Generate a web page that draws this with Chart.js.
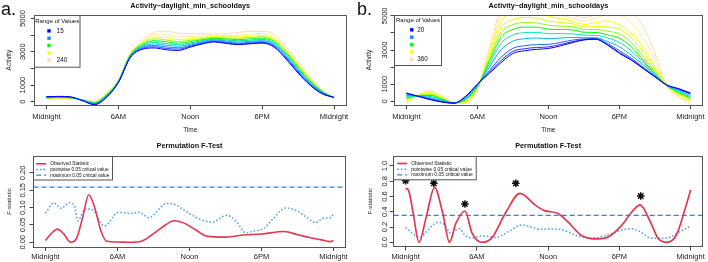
<!DOCTYPE html>
<html><head><meta charset="utf-8">
<script src="https://cdn.jsdelivr.net/npm/chart.js@4.4.1/dist/chart.umd.min.js"></script>
<style>
html,body{margin:0;padding:0;background:#fff;width:708px;height:262px;overflow:hidden;position:relative;}
canvas{position:absolute;}
.plab{position:absolute;font-family:"Liberation Sans",Arial,sans-serif;font-size:18px;line-height:18px;color:#111;}
</style></head><body>
<canvas id="cA" width="354" height="135" style="left:0;top:0;width:354px;height:135px"></canvas>
<canvas id="cB" width="354" height="135" style="left:354px;top:0;width:354px;height:135px"></canvas>
<canvas id="cC" width="354" height="127" style="left:0;top:135px;width:354px;height:127px"></canvas>
<canvas id="cD" width="354" height="127" style="left:354px;top:135px;width:354px;height:127px"></canvas>
<div class="plab" style="left:1px;top:0px">a.</div>
<div class="plab" style="left:357px;top:0px">b.</div>
<script>
const FONT = '"Liberation Sans", Arial, sans-serif';

// ---------- shared axes ----------
const hours = [0,1,2,3,4,5,6,7,8,9,10,11,12,13,14,15,16,17,18,19,20,21,22,23,24];
const timeTicks = [0, 6, 12, 18, 24];
const timeLabels = ['Midnight', '6AM', 'Noon', '6PM', 'Midnight'];
const activityTicks = [0, 1000, 2000, 3000, 4000, 5000];
const activityTickLabels = ['0', '1000', '', '3000', '', '5000'];

// ---------- panel a (top): activity curves, lambda 15..240 ----------
const lambdaA = [15, 40, 65, 90, 115, 140, 165, 190, 215, 240];
const actA_15  = [300, 320, 290, 60, -180, 250, 1150, 2650, 3150, 3230, 3120, 3080, 3280, 3470, 3590, 3500, 3430, 3480, 3520, 3280, 2560, 1720, 990, 480, 260];
const actA_40  = [290, 310, 280, 70, -160, 280, 1160, 2680, 3200, 3300, 3200, 3160, 3330, 3510, 3620, 3540, 3470, 3520, 3560, 3330, 2620, 1780, 1030, 500, 255];
const actA_65  = [280, 300, 270, 80, -140, 310, 1180, 2710, 3260, 3380, 3290, 3240, 3390, 3560, 3660, 3590, 3520, 3570, 3610, 3390, 2690, 1840, 1080, 530, 250];
const actA_90  = [265, 285, 260, 90, -110, 340, 1200, 2740, 3320, 3470, 3390, 3330, 3460, 3610, 3710, 3650, 3590, 3630, 3670, 3460, 2770, 1910, 1130, 560, 245];
const actA_115 = [250, 270, 250, 100, -80, 370, 1220, 2770, 3380, 3570, 3490, 3420, 3530, 3670, 3760, 3710, 3660, 3700, 3740, 3540, 2850, 1990, 1190, 590, 240];
const actA_140 = [235, 255, 240, 105, -60, 400, 1240, 2800, 3440, 3670, 3600, 3520, 3610, 3730, 3810, 3770, 3730, 3780, 3820, 3620, 2940, 2070, 1250, 620, 230];
const actA_165 = [220, 240, 230, 110, -40, 430, 1260, 2830, 3500, 3780, 3710, 3620, 3690, 3790, 3860, 3830, 3810, 3860, 3900, 3700, 3020, 2150, 1310, 650, 220];
const actA_190 = [205, 225, 220, 115, -20, 460, 1280, 2860, 3560, 3890, 3830, 3730, 3780, 3860, 3920, 3900, 3890, 3940, 3980, 3790, 3110, 2230, 1370, 670, 210];
const actA_215 = [190, 210, 205, 120, 0, 490, 1300, 2890, 3610, 4020, 3990, 3880, 3900, 3950, 3990, 3980, 3990, 4060, 4090, 3900, 3200, 2310, 1430, 690, 200];
const actA_240 = [175, 195, 190, 125, 20, 520, 1330, 2920, 3660, 4180, 4230, 4130, 4100, 4080, 4070, 4090, 4160, 4230, 4230, 4050, 3300, 2400, 1500, 710, 190];
const seriesA = [actA_15, actA_40, actA_65, actA_90, actA_115, actA_140, actA_165, actA_190, actA_215, actA_240];
const legendLabelsA = ['15', '', '', '', '240'];

// ---------- panel b (top): activity curves, lambda 20..360 ----------
const lambdaB = [20, 54, 88, 122, 156, 190, 224, 258, 292, 326, 360];
const actB_20  = [490, 290, 100, -40, -110, 290, 1000, 1630, 2260, 2800, 2960, 3040, 3090, 3240, 3430, 3590, 3630, 3290, 2800, 2410, 1920, 1430, 960, 745, 490];
const actB_54  = [465, 294, 121, -25, -108, 274, 988, 1689, 2386, 2920, 3078, 3150, 3180, 3320, 3480, 3610, 3640, 3320, 2860, 2450, 1950, 1445, 955, 725, 465];
const actB_88  = [428, 299, 152, -3, -105, 249, 970, 1777, 2574, 3100, 3254, 3316, 3330, 3440, 3580, 3650, 3680, 3380, 2960, 2530, 2000, 1475, 945, 695, 428];
const actB_122 = [341, 312, 225, 49, -98, 192, 928, 1983, 3014, 3520, 3666, 3702, 3670, 3700, 3740, 3720, 3720, 3490, 3190, 2700, 2150, 1540, 940, 630, 341];
const actB_156 = [267, 322, 287, 93, -92, 142, 892, 2159, 3390, 3880, 4018, 4034, 3960, 3960, 3950, 3870, 3860, 3700, 3450, 2950, 2290, 1590, 935, 570, 267];
const actB_190 = [199, 332, 344, 134, -86, 97, 859, 2321, 3736, 4210, 4342, 4337, 4220, 4200, 4180, 4040, 4030, 3880, 3690, 3190, 2410, 1630, 930, 515, 199];
const actB_224 = [143, 340, 391, 167, -82, 60, 832, 2453, 4018, 4480, 4606, 4586, 4450, 4400, 4370, 4190, 4200, 4100, 3950, 3450, 2620, 1740, 925, 470, 143];
const actB_258 = [81, 349, 443, 204, -77, 19, 802, 2600, 4332, 4780, 4900, 4862, 4690, 4620, 4540, 4340, 4380, 4350, 4220, 3720, 2900, 1880, 920, 420, 81];
const actB_292 = [6, 360, 506, 249, -71, -30, 766, 2777, 4709, 5140, 5253, 5193, 4980, 4850, 4700, 4500, 4600, 4700, 4470, 3980, 3190, 2020, 915, 360, 6];
const actB_326 = [-62, 370, 563, 289, -66, -75, 733, 2938, 5055, 5470, 5577, 5496, 5250, 5050, 4850, 4700, 4850, 5100, 5050, 4600, 3750, 2400, 910, 305, -62];
const actB_360 = [-130, 380, 620, 330, -60, -120, 700, 3100, 5400, 5800, 5900, 5800, 5500, 5300, 5050, 4900, 5100, 5500, 5600, 5300, 4370, 2800, 900, 250, -130];
const seriesB = [actB_20, actB_54, actB_88, actB_122, actB_156, actB_190, actB_224, actB_258, actB_292, actB_326, actB_360];
const legendLabelsB = ['20', '', '', '', '360'];

// ---------- panel a (bottom): permutation F-test ----------
const fTicksA = [0, 0.05, 0.10, 0.15, 0.20];
const fLabelsA = ['0.00', '0.05', '0.10', '0.15', '0.20'];
const obsA_x = [0, 0.5, 1, 1.5, 2.1, 2.6, 3.1, 3.6, 4.1, 4.6, 5.1, 6, 7, 8, 9, 10, 10.7, 11.5, 12.5, 13.5, 15, 16.5, 18, 19.9, 21, 22, 23, 23.7, 24];
const obsA_y = [0.005, 0.026, 0.038, 0.025, 0.0, 0.012, 0.072, 0.137, 0.1, 0.035, 0.003, 0.001, 0.0, 0.003, 0.025, 0.05, 0.062, 0.056, 0.036, 0.017, 0.015, 0.021, 0.024, 0.031, 0.022, 0.014, 0.007, 0.002, 0.005];
const ptwA_x = [0, 0.7, 1.3, 2.0, 2.4, 2.7, 3.3, 3.9, 4.9, 6.1, 7.1, 7.8, 8.6, 10.1, 10.7, 11.8, 12.9, 13.9, 15.1, 15.9, 16.7, 17.3, 18.2, 19, 20, 21, 21.8, 22.5, 23.2, 23.8, 24];
const ptwA_y = [0.084, 0.114, 0.098, 0.114, 0.106, 0.062, 0.096, 0.094, 0.047, 0.087, 0.083, 0.087, 0.071, 0.112, 0.11, 0.087, 0.066, 0.058, 0.078, 0.06, 0.027, 0.032, 0.04, 0.069, 0.099, 0.09, 0.071, 0.057, 0.07, 0.071, 0.085];
const maxCritA = 0.159;

// ---------- panel b (bottom): permutation F-test ----------
const fTicksB = [0, 0.2, 0.4, 0.6, 0.8, 1.0];
const fLabelsB = ['0.0', '0.2', '0.4', '0.6', '0.8', '1.0'];
const obsB_x = [0, 0.25, 0.64, 1.13, 1.75, 2.44, 3.13, 3.7, 4.24, 5.0, 5.6, 6.45, 7.3, 8.4, 9.64, 10.9, 11.7, 12.8, 13.65, 14.76, 15.87, 16.98, 18.1, 19.06, 19.75, 20.6, 21.27, 22.0, 22.8, 23.5, 24];
const obsB_y = [0.707, 0.68, 0.38, 0.0, 0.34, 0.72, 0.38, 0.0, 0.25, 0.41, 0.12, 0.0, 0.065, 0.38, 0.64, 0.49, 0.415, 0.38, 0.27, 0.096, 0.044, 0.065, 0.205, 0.40, 0.49, 0.27, 0.05, 0.0, 0.096, 0.42, 0.685];
const ptwB_x = [0, 0.64, 1.2, 1.75, 2.7, 3.3, 3.8, 4.5, 5.07, 5.6, 6.45, 7.6, 8.67, 9.78, 10.6, 11.4, 12.5, 13.4, 14.5, 15.6, 16.7, 17.8, 18.9, 19.75, 20.6, 21.4, 22.2, 23.1, 24];
const ptwB_y = [0.196, 0.11, 0.065, 0.14, 0.26, 0.23, 0.118, 0.18, 0.083, 0.057, 0.083, 0.065, 0.14, 0.227, 0.196, 0.17, 0.175, 0.153, 0.083, 0.057, 0.083, 0.14, 0.178, 0.14, 0.057, 0.052, 0.065, 0.14, 0.214];
const maxCritB = 0.354;
const sigB_x = [0, 2.38, 5.0, 9.28, 19.8];
const sigB_y = [0.807, 0.773, 0.502, 0.773, 0.607];

// ---------- styles ----------
const colorsA = ['#0000FF', '#2244FF', '#1E80FF', '#00B8FF', '#00E0A0', '#00FF00', '#A0FF00', '#FFFF00', '#FFEA90', '#FFDAB9'];
const colorsB = ['#0000FF', '#2A2AFF', '#1E64FF', '#00B4FF', '#00E8B0', '#00FF00', '#90FF00', '#E0FF00', '#FFFF00', '#FFEAA0', '#FFDAB9'];
const legendColors = ['#0000FF', '#1E80FF', '#00FF00', '#FFFF00', '#FFDAB9'];
const RED = '#E4364F', DOT = '#4F9DF2', DASH = '#2A80DA';

const pts = (xs, ys) => xs.map((x, i) => ({x: x, y: ys[i]}));

// ---------- plugins ----------
const frame = {
  id: 'frame',
  afterDatasetsDraw(chart) {
    const a = chart.chartArea, ctx = chart.ctx;
    const x0 = Math.floor(a.left) + 0.5, x1 = Math.floor(a.right) + 0.5;
    const y0 = Math.floor(a.top) + 0.5, y1 = Math.floor(a.bottom) + 0.5;
    ctx.save();
    ctx.strokeStyle = '#555'; ctx.lineWidth = 1;
    ctx.strokeRect(x0, y0, x1 - x0, y1 - y0);
    ctx.restore();
  }
};
const rLegend = {
  id: 'rlegend',
  afterDraw(chart, args, o) {
    if (!o || !o.labels) return;
    const a = chart.chartArea, ctx = chart.ctx;
    const L = Math.floor(a.left) + 0.5, T = Math.floor(a.top) + 0.5;
    ctx.save();
    ctx.fillStyle = '#fff'; ctx.fillRect(L, T, o.w, o.h);
    ctx.strokeStyle = '#555'; ctx.lineWidth = 1; ctx.strokeRect(L, T, o.w, o.h);
    ctx.textBaseline = 'middle';
    if (o.title) {
      ctx.fillStyle = '#111';
      ctx.font = o.titleSize + 'px ' + FONT; ctx.textAlign = 'center';
      ctx.fillText(o.title, L + o.w / 2, T + o.titleY);
    }
    ctx.font = o.fontSize + 'px ' + FONT; ctx.textAlign = 'left';
    for (let i = 0; i < o.labels.length; i++) {
      const y = T + o.rowY[i];
      if (o.kind === 'square') {
        ctx.fillStyle = o.colors[i];
        ctx.fillRect(L + o.markX - 1.7, y - 1.7, 3.4, 3.4);
      } else {
        const ds = chart.data.datasets[i];
        ctx.strokeStyle = ds.borderColor; ctx.lineWidth = ds.borderWidth;
        ctx.setLineDash(ds.borderDash || []);
        ctx.beginPath(); ctx.moveTo(L + o.markX, y); ctx.lineTo(L + o.markX2, y); ctx.stroke();
        ctx.setLineDash([]);
      }
      ctx.fillStyle = '#111';
      if (o.labels[i]) ctx.fillText(o.labels[i], L + o.textX, y);
    }
    ctx.restore();
  }
};

// ---------- scale builders ----------
const gridOpts = {display: true, drawOnChartArea: false, drawTicks: true, tickLength: 4, color: '#444', lineWidth: 1};
function timeScale(o) {
  return {
    type: 'linear', min: -1, max: 25,
    afterBuildTicks: s => { s.ticks = timeTicks.map(v => ({value: v})); },
    afterFit: s => { s.height = o.height; },
    ticks: {autoSkip: false, maxRotation: 0, minRotation: 0, padding: o.pad, color: '#222',
      font: {family: FONT, size: 7.5, lineHeight: 1.2},
      callback: (v, i) => timeLabels[i]},
    grid: gridOpts, border: {display: false},
    title: o.title ? {display: true, text: o.title, color: '#222', font: {family: FONT, size: 6.5, lineHeight: 1.2}, padding: {top: 0, bottom: 0.6}} : {display: false}
  };
}
function valueScale(o) {
  return {
    type: 'linear', min: o.min, max: o.max,
    afterBuildTicks: s => { s.ticks = o.ticks.map(v => ({value: v})); },
    afterFit: s => { s.width = o.width; },
    ticks: {autoSkip: false, minRotation: 90, maxRotation: 90, crossAlign: 'center', padding: o.pad, color: '#222',
      font: {family: FONT, size: 7.5, lineHeight: 1.2},
      callback: (v, i) => o.labels[i]},
    grid: gridOpts, border: {display: false},
    title: {display: true, text: o.title, color: '#222', font: {family: FONT, size: o.titleSize, lineHeight: 1.2}, padding: {top: o.titlePad, bottom: 0}}
  };
}
function titleOpts(text, top, bottom) {
  return {display: true, text: text, fullSize: false, color: '#111',
    font: {family: FONT, size: 7.3, weight: 'bold', lineHeight: 1.2}, padding: {top: top, bottom: bottom}};
}
const common = {responsive: false, animation: false, devicePixelRatio: 1, events: []};

// ---------- chart a top ----------
new Chart(document.getElementById('cA'), {
  type: 'line',
  data: {datasets: seriesA.map((arr, i) => ({label: String(lambdaA[i]), data: pts(hours, arr),
    borderColor: colorsA[i], borderWidth: 1, pointRadius: 0, cubicInterpolationMode: 'monotone'}))},
  options: Object.assign({}, common, {
    layout: {padding: {left: 0, right: 8, top: 0, bottom: 0}},
    scales: {
      x: timeScale({height: 30, pad: 3.2, title: 'Time'}),
      y: valueScale({min: -198, max: 5192, ticks: activityTicks, labels: activityTickLabels, width: 34.5, pad: -0.8, title: 'Activity', titleSize: 6.5, titlePad: 5.3})
    },
    plugins: {
      legend: {display: false}, tooltip: {enabled: false},
      title: titleOpts('Activity~daylight_min_schooldays', 1.9, 4.64),
      rlegend: {kind: 'square', w: 45.5, h: 51.7, title: 'Range of Values', titleSize: 6, titleY: 5.4,
        labels: legendLabelsA, colors: legendColors, rowY: [15.4, 22.7, 30, 37.3, 44.7], markX: 14.5, textX: 22.3, fontSize: 6.3}
    }
  }),
  plugins: [frame, rLegend]
});

// ---------- chart b top ----------
new Chart(document.getElementById('cB'), {
  type: 'line',
  data: {datasets: seriesB.map((arr, i) => ({label: String(lambdaB[i]), data: pts(hours, arr),
    borderColor: colorsB[i], borderWidth: 1, pointRadius: 0, cubicInterpolationMode: 'monotone'}))},
  options: Object.assign({}, common, {
    layout: {padding: {left: 0, right: 1.5, top: 0, bottom: 0}},
    scales: {
      x: timeScale({height: 30, pad: 3.2, title: 'Time'}),
      y: valueScale({min: -215, max: 5050, ticks: activityTicks, labels: activityTickLabels, width: 40.5, pad: -2.3, title: 'Activity', titleSize: 6.5, titlePad: 11.1})
    },
    plugins: {
      legend: {display: false}, tooltip: {enabled: false},
      title: titleOpts('Activity~daylight_min_schooldays', 1.6, 4.64),
      rlegend: {kind: 'square', w: 47, h: 50, title: 'Range of Values', titleSize: 6, titleY: 5,
        labels: legendLabelsB, colors: legendColors, rowY: [14.3, 21.7, 29.1, 36.5, 44], markX: 17.3, textX: 22.7, fontSize: 6.3}
    }
  }),
  plugins: [frame, rLegend]
});

// ---------- chart a bottom ----------
new Chart(document.getElementById('cC'), {
  type: 'line',
  data: {datasets: [
    {label: 'Observed Statistic', data: pts(obsA_x, obsA_y), borderColor: RED, borderWidth: 1.6, pointRadius: 0, cubicInterpolationMode: 'monotone'},
    {label: 'pointwise 0.05 critical value', data: pts(ptwA_x, ptwA_y), borderColor: DOT, borderWidth: 1.5, borderDash: [1.6, 2], pointRadius: 0, cubicInterpolationMode: 'monotone'},
    {label: 'maximum 0.05 critical value', data: [{x: -1, y: maxCritA}, {x: 25, y: maxCritA}], borderColor: DASH, borderWidth: 1.2, borderDash: [5, 3], pointRadius: 0}
  ]},
  options: Object.assign({}, common, {
    layout: {padding: {left: 0, right: 8.5, top: 0, bottom: 0}},
    scales: {
      x: timeScale({height: 15, pad: 1.8, title: null}),
      y: valueScale({min: -0.0136, max: 0.249, ticks: fTicksA, labels: fLabelsA, width: 33.5, pad: -0.3, title: 'F-statistic', titleSize: 6.2, titlePad: 5.8})
    },
    plugins: {
      legend: {display: false}, tooltip: {enabled: false},
      title: titleOpts('Permutation F-Test', 6.3, 5.94),
      rlegend: {kind: 'line', w: 79, h: 23.5, title: null,
        labels: ['Observed Statistic', 'pointwise 0.05 critical value', 'maximum 0.05 critical value'],
        rowY: [7.3, 13, 18.7], markX: 2.7, markX2: 12.7, textX: 16.7, fontSize: 4.8}
    }
  }),
  plugins: [frame, rLegend]
});

// ---------- chart b bottom ----------
new Chart(document.getElementById('cD'), {
  type: 'line',
  data: {datasets: [
    {label: 'Observed Statistic', data: pts(obsB_x, obsB_y), borderColor: RED, borderWidth: 1.7, pointRadius: 0, cubicInterpolationMode: 'monotone'},
    {label: 'pointwise 0.05 critical value', data: pts(ptwB_x, ptwB_y), borderColor: DOT, borderWidth: 1.5, borderDash: [1.6, 2], pointRadius: 0, cubicInterpolationMode: 'monotone'},
    {label: 'maximum 0.05 critical value', data: [{x: -1, y: maxCritB}, {x: 25, y: maxCritB}], borderColor: DASH, borderWidth: 1.2, borderDash: [5, 3], pointRadius: 0},
    {label: 'significant', data: pts(sigB_x, sigB_y), showLine: false, pointStyle: 'star', pointRadius: 3.8, borderColor: '#111', borderWidth: 1.5, backgroundColor: '#111'}
  ]},
  options: Object.assign({}, common, {
    layout: {padding: {left: 0, right: 2.3, top: 0, bottom: 0}},
    scales: {
      x: timeScale({height: 15.5, pad: 2.3, title: null}),
      y: valueScale({min: -0.055, max: 1.131, ticks: fTicksB, labels: fLabelsB, width: 39.7, pad: -0.5, title: 'F-statistic', titleSize: 6.2, titlePad: 12.1})
    },
    plugins: {
      legend: {display: false}, tooltip: {enabled: false},
      title: titleOpts('Permutation F-Test', 6.3, 5.94),
      rlegend: {kind: 'line', w: 82.7, h: 23.3, title: null,
        labels: ['Observed Statistic', 'pointwise 0.05 critical value', 'maximum 0.05 critical value'],
        rowY: [7, 12.7, 18.3], markX: 3.7, markX2: 13.7, textX: 17.7, fontSize: 5.0}
    }
  }),
  plugins: [frame, rLegend]
});
</script>
</body></html>
